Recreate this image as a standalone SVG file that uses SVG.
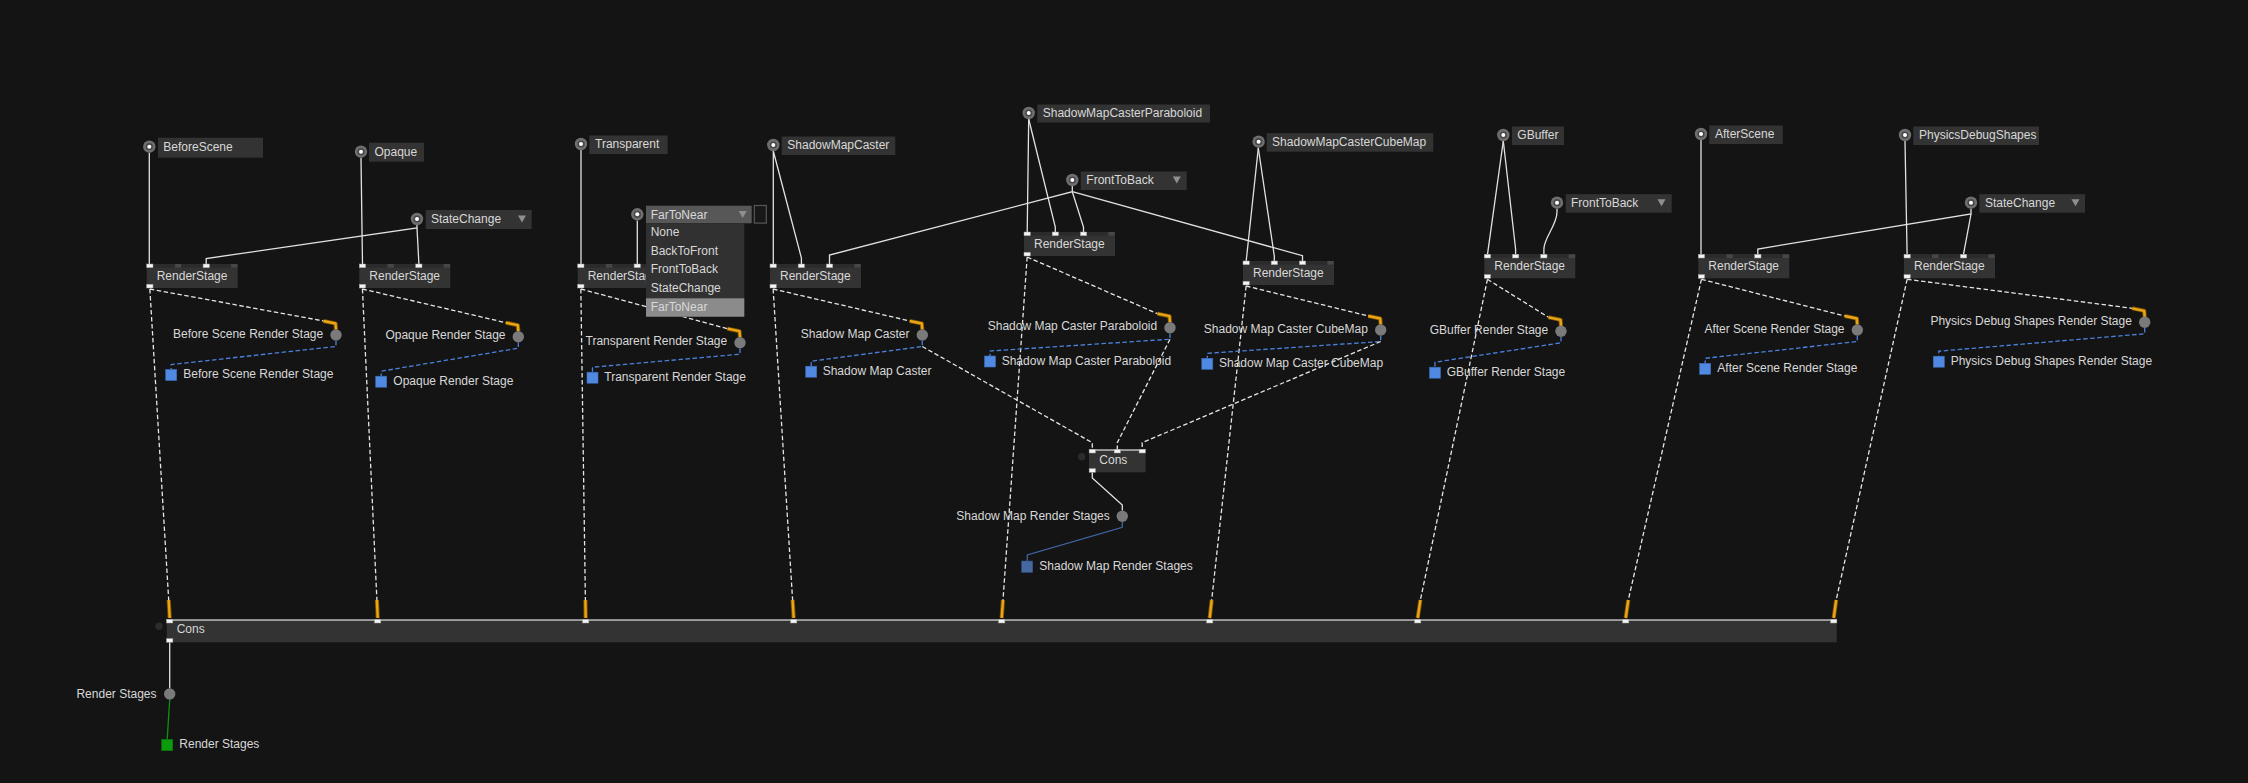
<svg xmlns="http://www.w3.org/2000/svg" width="2248" height="783" viewBox="0 0 2248 783">
<style>
text{font-family:"Liberation Sans",Arial,sans-serif;font-size:12px;fill:#d8d8d8}
.box{fill:#333333}
.w{fill:none;stroke:#e2e2e2;stroke-width:1.3}
.d{fill:none;stroke:#e6e6e6;stroke-width:1.3;stroke-dasharray:4.5 2.5}
.yo{fill:none;stroke:#7d5300;stroke-width:4.2;stroke-linejoin:round}
.yi{fill:none;stroke:#eaa514;stroke-width:2.4;stroke-linejoin:round}
.bd{fill:none;stroke:#4a82de;stroke-width:1.3;stroke-dasharray:4.5 2.5}
.port{fill:#f4f4f4;stroke:#9a9a9a;stroke-width:0.5}
.slot{fill:#474747}
.strip{fill:#2b2b2b}
.oc{fill:#7a7a7a}
.sq{fill:#5089e2;stroke:#3d6cb8;stroke-width:0.6}
.tri{fill:#8f8f8f}
.ring{fill:#6f6f6f}
.ringin{fill:#474747}
.dot{fill:#ffffff}
</style>
<defs>
<g id="icon"><circle r="6.2" class="ring"/><circle r="3.6" class="ringin"/><circle r="2" class="dot"/></g>
<clipPath id="clipPhys"><rect x="1913.3" y="126" width="125.7" height="19"/></clipPath>
</defs>
<rect width="2248" height="783" fill="#141414"/>

<g id="connectors">
<!-- input links -->
<path class="w" d="M149.3,153 V264"/>
<path class="w" d="M361,158 L362.5,264"/>
<path class="w" d="M417,225 V228 L206.2,258.5 V264"/>
<path class="w" d="M417,228 L418.9,264"/>
<path class="w" d="M581,150 V264"/>
<path class="w" d="M637.3,220.5 V264"/>
<path class="w" d="M773.3,151 V264"/>
<path class="w" d="M773.3,151 L801.4,258 V264"/>
<path class="w" d="M1072.3,186 V191.7 L829.5,255 V264"/>
<path class="w" d="M1028.7,119 L1027.2,232"/>
<path class="w" d="M1028.7,119 L1055.3,227 V232"/>
<path class="w" d="M1072.3,191.7 L1083.5,227 V232"/>
<path class="w" d="M1072.3,191.7 L1302.5,255.7 V261"/>
<path class="w" d="M1258.3,148 L1246.2,261"/>
<path class="w" d="M1258.3,148 L1274.3,256 V261"/>
<path class="w" d="M1503.3,141 L1487.5,254.3"/>
<path class="w" d="M1503.3,141 L1515.6,249 V254.3"/>
<path class="w" d="M1557,209 V212 C1557,225 1543.9,238 1543.9,249 V254.3"/>
<path class="w" d="M1701,140 V254.3"/>
<path class="w" d="M1971,209 V214 L1757.8,249 V254.3"/>
<path class="w" d="M1971,214 L1963.5,254.3"/>
<path class="w" d="M1905,141 L1907.1,254.3"/>

<!-- render stage -> label outputs -->
<path class="d" d="M149.85,289 L323.5,321"/>
<path class="d" d="M362.45,289 L505.8,322.7"/>
<path class="d" d="M580.85,289 L727.5,328.7"/>
<path class="d" d="M773.15,289 L909.8,321"/>
<path class="d" d="M1027.15,257 L1157.5,313.7"/>
<path class="d" d="M1246.15,286 L1368.2,316"/>
<path class="d" d="M1487.45,279.3 L1548.5,317.3"/>
<path class="d" d="M1701.45,279.3 L1844.8,316"/>
<path class="d" d="M1907.15,279.3 L2132.2,308.3"/>
<g id="yellow-ends-labels">
<path class="yo" d="M323.5,321 L335.5,323.5 L336,329.5"/><path class="yi" d="M323.5,321 L335.5,323.5 L336,329.5"/>
<path class="yo" d="M505.8,322.7 L517.8,325.2 L518.3,331.2"/><path class="yi" d="M505.8,322.7 L517.8,325.2 L518.3,331.2"/>
<path class="yo" d="M727.5,328.7 L739.5,331.2 L740,337.2"/><path class="yi" d="M727.5,328.7 L739.5,331.2 L740,337.2"/>
<path class="yo" d="M909.8,321 L921.8,323.5 L922.3,329.5"/><path class="yi" d="M909.8,321 L921.8,323.5 L922.3,329.5"/>
<path class="yo" d="M1157.5,313.7 L1169.5,316.2 L1170,322.2"/><path class="yi" d="M1157.5,313.7 L1169.5,316.2 L1170,322.2"/>
<path class="yo" d="M1368.2,316 L1380.2,318.5 L1380.7,324.5"/><path class="yi" d="M1368.2,316 L1380.2,318.5 L1380.7,324.5"/>
<path class="yo" d="M1548.5,317.3 L1560.5,319.8 L1561,325.8"/><path class="yi" d="M1548.5,317.3 L1560.5,319.8 L1561,325.8"/>
<path class="yo" d="M1844.8,316 L1856.8,318.5 L1857.3,324.5"/><path class="yi" d="M1844.8,316 L1856.8,318.5 L1857.3,324.5"/>
<path class="yo" d="M2132.2,308.3 L2144.2,310.8 L2144.7,316.8"/><path class="yi" d="M2132.2,308.3 L2144.2,310.8 L2144.7,316.8"/>
</g>

<!-- render stage -> big Cons -->
<path class="d" d="M149.85,289 L168.7,600"/>
<path class="d" d="M362.45,289 L376.9,600"/>
<path class="d" d="M580.85,289 L585.4,600"/>
<path class="d" d="M773.15,289 L792.6,600"/>
<path class="d" d="M1027.15,257 L1003,600"/>
<path class="d" d="M1246.15,286 L1211.7,600"/>
<path class="d" d="M1487.45,279.3 L1420.4,600"/>
<path class="d" d="M1701.45,279.3 L1628.3,600"/>
<path class="d" d="M1907.15,279.3 L1836.2,600"/>
<g id="yellow-ends-cons">
<path class="yo" d="M168.7,600 L169.7,618"/><path class="yi" d="M168.7,600 L169.7,618"/>
<path class="yo" d="M376.9,600 L377.7,618"/><path class="yi" d="M376.9,600 L377.7,618"/>
<path class="yo" d="M585.4,600 L585.7,618"/><path class="yi" d="M585.4,600 L585.7,618"/>
<path class="yo" d="M792.6,600 L793.7,618"/><path class="yi" d="M792.6,600 L793.7,618"/>
<path class="yo" d="M1003,600 L1001.7,618"/><path class="yi" d="M1003,600 L1001.7,618"/>
<path class="yo" d="M1211.7,600 L1209.7,618"/><path class="yi" d="M1211.7,600 L1209.7,618"/>
<path class="yo" d="M1420.4,600 L1417.7,618"/><path class="yi" d="M1420.4,600 L1417.7,618"/>
<path class="yo" d="M1628.3,600 L1625.7,618"/><path class="yi" d="M1628.3,600 L1625.7,618"/>
<path class="yo" d="M1836.2,600 L1833.7,618"/><path class="yi" d="M1836.2,600 L1833.7,618"/>
</g>

<!-- label outputs -> blue squares -->
<path class="bd" d="M336,340.7 V346.5 L171.2,364.5 V369.5"/>
<path class="bd" d="M518.3,342.4 V348.2 L381.2,371.2 V376.2"/>
<path class="bd" d="M740,348.4 V354.2 L592.5,367.2 V372.2"/>
<path class="bd" d="M922.3,340.7 V346.5 L811.2,361.2 V366.2"/>
<path class="bd" d="M1170,333.4 V339.2 L990,351 V356"/>
<path class="bd" d="M1380.7,335.7 V341.5 L1207.3,353.3 V358.3"/>
<path class="bd" d="M1561,337 V342.8 L1435,362.2 V367.2"/>
<path class="bd" d="M1857.3,335.7 V341.5 L1705.2,358.3 V363.3"/>
<path class="bd" d="M2144.7,328 V333.8 L1938.8,351.2 V356.2"/>

<!-- shadow outputs -> inner Cons -->
<path class="d" d="M922.3,346.5 L1092.3,442.7 V449.3"/>
<path class="d" d="M1170,339.2 L1117.3,442.7 V449.3"/>
<path class="d" d="M1380.7,341.5 L1142.2,442.7 V449.3"/>

<!-- inner Cons output -->
<path class="w" d="M1092.3,472.3 V478 L1122.3,505 V510.6"/>
<path fill="none" stroke="#3f66a3" stroke-width="1.3" d="M1122.3,522 V527.3 L1027.3,555 V561"/>

<!-- big Cons output -->
<path class="w" d="M169.7,642.3 V688.3"/>
<path fill="none" stroke="#168c16" stroke-width="1.3" d="M169.7,699.7 L167.2,739.3"/>
</g>

<!-- input nodes -->
<g id="in-beforescene" transform="translate(149.3,146.7)"><use href="#icon"/><rect class="box" x="8.7" y="-9" width="105" height="20"/><text x="14" y="4.2">BeforeScene</text></g>
<g id="in-opaque" transform="translate(361,151.7)"><use href="#icon"/><rect class="box" x="8" y="-9" width="55" height="19"/><text x="13.5" y="4.2">Opaque</text></g>
<g id="in-statechange1" transform="translate(417,219)"><use href="#icon"/><rect class="box" x="8.7" y="-9" width="106" height="19"/><text x="14" y="4.2">StateChange</text><path class="tri" d="M101,-3.5 h8 l-4,7 z"/></g>
<g id="in-transparent" transform="translate(581,144)"><use href="#icon"/><rect class="box" x="8.3" y="-8.5" width="78.4" height="18.5"/><text x="14" y="4.2">Transparent</text></g>
<g id="in-shadowmapcaster" transform="translate(773.3,145)"><use href="#icon"/><rect class="box" x="8.4" y="-8.5" width="113.6" height="18.5"/><text x="14" y="4.2">ShadowMapCaster</text></g>
<g id="in-paraboloid" transform="translate(1028.7,113)"><use href="#icon"/><rect class="box" x="8.6" y="-8.5" width="172.7" height="18"/><text x="14" y="4.2">ShadowMapCasterParaboloid</text></g>
<g id="in-fronttoback1" transform="translate(1072.3,180)"><use href="#icon"/><rect class="box" x="8.4" y="-8.5" width="106" height="18.5"/><text x="14" y="4.2">FrontToBack</text><path class="tri" d="M100.5,-3.5 h8 l-4,7 z"/></g>
<g id="in-cubemap" transform="translate(1258.6,141.7)"><use href="#icon"/><rect class="box" x="8.1" y="-8.5" width="166.6" height="18.5"/><text x="13.5" y="4.2">ShadowMapCasterCubeMap</text></g>
<g id="in-gbuffer" transform="translate(1503.3,135)"><use href="#icon"/><rect class="box" x="8.7" y="-8.5" width="52" height="18.5"/><text x="14" y="4.2">GBuffer</text></g>
<g id="in-fronttoback2" transform="translate(1557,202.7)"><use href="#icon"/><rect class="box" x="8.7" y="-8.5" width="106" height="18.5"/><text x="14" y="4.2">FrontToBack</text><path class="tri" d="M100.5,-3.5 h8 l-4,7 z"/></g>
<g id="in-afterscene" transform="translate(1701,134)"><use href="#icon"/><rect class="box" x="8.3" y="-8.5" width="73.4" height="18.5"/><text x="14" y="4.2">AfterScene</text></g>
<g id="in-physics"><use href="#icon" x="1905" y="135"/><rect class="box" x="1913.3" y="126.5" width="125.7" height="18.5"/><text x="1919" y="139.2" clip-path="url(#clipPhys)">PhysicsDebugShapes</text></g>
<g id="in-statechange2" transform="translate(1971,202.7)"><use href="#icon"/><rect class="box" x="8.3" y="-8.5" width="105.7" height="18.5"/><text x="14" y="4.2">StateChange</text><path class="tri" d="M100.5,-3.5 h8 l-4,7 z"/></g>

<!-- RenderStage nodes -->
<g id="rs1" transform="translate(146.7,264)"><rect class="box" width="91" height="24"/><rect class="strip" width="91" height="3.7"/><rect class="slot" x="28.2" width="6.3" height="3.7"/><rect class="slot" x="84.4" width="6.3" height="3.7"/><rect class="port" width="6.3" height="3.7"/><rect class="port" x="56.4" width="6.3" height="3.7"/><rect class="port" y="20.3" width="6.3" height="3.7"/><text x="10" y="15.5">RenderStage</text></g>
<g id="rs2" transform="translate(359.3,264)"><rect class="box" width="91" height="24"/><rect class="strip" width="91" height="3.7"/><rect class="slot" x="28.2" width="6.3" height="3.7"/><rect class="slot" x="84.4" width="6.3" height="3.7"/><rect class="port" width="6.3" height="3.7"/><rect class="port" x="56.4" width="6.3" height="3.7"/><rect class="port" y="20.3" width="6.3" height="3.7"/><text x="10" y="15.5">RenderStage</text></g>
<g id="rs3" transform="translate(577.7,264)"><rect class="box" width="91" height="24"/><rect class="strip" width="91" height="3.7"/><rect class="slot" x="28.2" width="6.3" height="3.7"/><rect class="slot" x="84.4" width="6.3" height="3.7"/><rect class="port" width="6.3" height="3.7"/><rect class="port" x="56.4" width="6.3" height="3.7"/><rect class="port" y="20.3" width="6.3" height="3.7"/><text x="10" y="15.5">RenderStage</text></g>
<g id="rs4" transform="translate(770,264)"><rect class="box" width="91" height="24"/><rect class="strip" width="91" height="3.7"/><rect class="slot" x="84.4" width="6.3" height="3.7"/><rect class="port" width="6.3" height="3.7"/><rect class="port" x="28.2" width="6.3" height="3.7"/><rect class="port" x="56.4" width="6.3" height="3.7"/><rect class="port" y="20.3" width="6.3" height="3.7"/><text x="10" y="15.5">RenderStage</text></g>
<g id="rs5" transform="translate(1024,232)"><rect class="box" width="91" height="24"/><rect class="strip" width="91" height="3.7"/><rect class="slot" x="84.4" width="6.3" height="3.7"/><rect class="port" width="6.3" height="3.7"/><rect class="port" x="28.2" width="6.3" height="3.7"/><rect class="port" x="56.4" width="6.3" height="3.7"/><rect class="port" y="20.3" width="6.3" height="3.7"/><text x="10" y="15.5">RenderStage</text></g>
<g id="rs6" transform="translate(1243,261)"><rect class="box" width="91" height="24"/><rect class="strip" width="91" height="3.7"/><rect class="slot" x="84.4" width="6.3" height="3.7"/><rect class="port" width="6.3" height="3.7"/><rect class="port" x="28.2" width="6.3" height="3.7"/><rect class="port" x="56.4" width="6.3" height="3.7"/><rect class="port" y="20.3" width="6.3" height="3.7"/><text x="10" y="15.5">RenderStage</text></g>
<g id="rs7" transform="translate(1484.3,254.3)"><rect class="box" width="91" height="24"/><rect class="strip" width="91" height="3.7"/><rect class="slot" x="84.4" width="6.3" height="3.7"/><rect class="port" width="6.3" height="3.7"/><rect class="port" x="28.2" width="6.3" height="3.7"/><rect class="port" x="56.4" width="6.3" height="3.7"/><rect class="port" y="20.3" width="6.3" height="3.7"/><text x="10" y="15.5">RenderStage</text></g>
<g id="rs8" transform="translate(1698.3,254.3)"><rect class="box" width="91" height="24"/><rect class="strip" width="91" height="3.7"/><rect class="slot" x="28.2" width="6.3" height="3.7"/><rect class="slot" x="84.4" width="6.3" height="3.7"/><rect class="port" width="6.3" height="3.7"/><rect class="port" x="56.4" width="6.3" height="3.7"/><rect class="port" y="20.3" width="6.3" height="3.7"/><text x="10" y="15.5">RenderStage</text></g>
<g id="rs9" transform="translate(1904,254.3)"><rect class="box" width="91" height="24"/><rect class="strip" width="91" height="3.7"/><rect class="slot" x="28.2" width="6.3" height="3.7"/><rect class="slot" x="84.4" width="6.3" height="3.7"/><rect class="port" width="6.3" height="3.7"/><rect class="port" x="56.4" width="6.3" height="3.7"/><rect class="port" y="20.3" width="6.3" height="3.7"/><text x="10" y="15.5">RenderStage</text></g>

<!-- output labels -->
<g id="out-beforescene"><circle class="oc" cx="336" cy="335" r="5.7"/><text x="323.2" y="337.5" text-anchor="end">Before Scene Render Stage</text></g>
<g id="out-opaque"><circle class="oc" cx="518.3" cy="336.7" r="5.7"/><text x="505.5" y="339.2" text-anchor="end">Opaque Render Stage</text></g>
<g id="out-transparent"><circle class="oc" cx="740" cy="342.7" r="5.7"/><text x="727.2" y="345.2" text-anchor="end">Transparent Render Stage</text></g>
<g id="out-shadowmapcaster"><circle class="oc" cx="922.3" cy="335" r="5.7"/><text x="909.5" y="337.5" text-anchor="end">Shadow Map Caster</text></g>
<g id="out-paraboloid"><circle class="oc" cx="1170" cy="327.7" r="5.7"/><text x="1157.2" y="330.2" text-anchor="end">Shadow Map Caster Paraboloid</text></g>
<g id="out-cubemap"><circle class="oc" cx="1380.7" cy="330" r="5.7"/><text x="1367.9" y="332.5" text-anchor="end">Shadow Map Caster CubeMap</text></g>
<g id="out-gbuffer"><circle class="oc" cx="1561" cy="331.3" r="5.7"/><text x="1548.2" y="333.8" text-anchor="end">GBuffer Render Stage</text></g>
<g id="out-afterscene"><circle class="oc" cx="1857.3" cy="330" r="5.7"/><text x="1844.5" y="332.5" text-anchor="end">After Scene Render Stage</text></g>
<g id="out-physics"><circle class="oc" cx="2144.7" cy="322.3" r="5.7"/><text x="2131.9" y="324.8" text-anchor="end">Physics Debug Shapes Render Stage</text></g>
<g id="out-shadowstages"><circle class="oc" cx="1122.3" cy="516.3" r="5.7"/><text x="1109.8" y="519.6" text-anchor="end">Shadow Map Render Stages</text></g>
<g id="out-renderstages"><circle class="oc" cx="169.7" cy="694" r="5.7"/><text x="156.5" y="697.5" text-anchor="end">Render Stages</text></g>

<!-- result squares -->
<g id="res-beforescene"><rect class="sq" x="165.7" y="369.5" width="11" height="11"/><text x="183.3" y="378.3">Before Scene Render Stage</text></g>
<g id="res-opaque"><rect class="sq" x="375.7" y="376.2" width="11" height="11"/><text x="393.3" y="385">Opaque Render Stage</text></g>
<g id="res-transparent"><rect class="sq" x="587" y="372.2" width="11" height="11"/><text x="604.3" y="381">Transparent Render Stage</text></g>
<g id="res-shadowmapcaster"><rect class="sq" x="805.7" y="366.2" width="11" height="11"/><text x="822.7" y="375">Shadow Map Caster</text></g>
<g id="res-paraboloid"><rect class="sq" x="984.5" y="356" width="11" height="11"/><text x="1001.7" y="364.8">Shadow Map Caster Paraboloid</text></g>
<g id="res-cubemap"><rect class="sq" x="1201.8" y="358.3" width="11" height="11"/><text x="1219" y="367.1">Shadow Map Caster CubeMap</text></g>
<g id="res-gbuffer"><rect class="sq" x="1429.5" y="367.2" width="11" height="11"/><text x="1446.7" y="376">GBuffer Render Stage</text></g>
<g id="res-afterscene"><rect class="sq" x="1699.7" y="363.3" width="11" height="11"/><text x="1717.3" y="372.1">After Scene Render Stage</text></g>
<g id="res-physics"><rect class="sq" x="1933.3" y="356.2" width="11" height="11"/><text x="1950.7" y="365">Physics Debug Shapes Render Stage</text></g>
<g id="res-shadowstages"><rect x="1021.7" y="561" width="11" height="11.3" fill="#44689f" stroke="#35548a" stroke-width="0.6"/><text x="1039.3" y="570">Shadow Map Render Stages</text></g>
<g id="res-renderstages"><rect x="161.7" y="739.3" width="11" height="11.4" fill="#0e9a0e" stroke="#0a7a0a" stroke-width="0.6"/><text x="179.3" y="748">Render Stages</text></g>

<!-- inner Cons -->
<g id="cons-shadow">
<circle cx="1081.7" cy="456.7" r="3.7" fill="#2c2c2c"/>
<rect class="box" x="1089" y="449.3" width="56.7" height="23"/>
<rect x="1089" y="449.3" width="56.7" height="1.5" fill="#b8b8b8"/>
<rect class="port" x="1089.15" y="449.3" width="6.3" height="3.7"/>
<rect class="port" x="1114.15" y="449.3" width="6.3" height="3.7"/>
<rect class="port" x="1139.05" y="449.3" width="6.3" height="3.7"/>
<rect class="port" x="1089.15" y="468.6" width="6.3" height="3.7"/>
<text x="1099.3" y="463.5">Cons</text>
</g>

<!-- big Cons -->
<g id="cons-main">
<circle cx="159" cy="626.3" r="3.7" fill="#2c2c2c"/>
<rect class="box" x="166.7" y="619.3" width="1670" height="23"/>
<rect x="166.7" y="619.3" width="1670" height="1.5" fill="#b8b8b8"/>
<rect class="port" x="166.55" y="619.3" width="6.3" height="3.7"/>
<rect class="port" x="374.55" y="619.3" width="6.3" height="3.7"/>
<rect class="port" x="582.55" y="619.3" width="6.3" height="3.7"/>
<rect class="port" x="790.55" y="619.3" width="6.3" height="3.7"/>
<rect class="port" x="998.55" y="619.3" width="6.3" height="3.7"/>
<rect class="port" x="1206.55" y="619.3" width="6.3" height="3.7"/>
<rect class="port" x="1414.55" y="619.3" width="6.3" height="3.7"/>
<rect class="port" x="1622.55" y="619.3" width="6.3" height="3.7"/>
<rect class="port" x="1830.55" y="619.3" width="6.3" height="3.7"/>
<rect class="port" x="166.55" y="638.6" width="6.3" height="3.7"/>
<text x="176.7" y="633.3">Cons</text>
</g>

<!-- FarToNear dropdown (open) -->
<g id="in-fartonear">
<use href="#icon" x="637.3" y="214.3"/>
<rect x="646" y="205.7" width="105.7" height="17.6" fill="#575757"/>
<text x="650.7" y="219">FarToNear</text>
<path class="tri" d="M738.7,211 h8 l-4,7 z"/>
<rect x="754.3" y="205.5" width="12" height="17.6" fill="#181818" stroke="#575757" stroke-width="1.2"/>
<rect x="646" y="223.3" width="98.3" height="93.4" fill="#313131"/>
<rect x="646" y="298.3" width="98.3" height="18.4" fill="#8b8b8b"/>
<text x="650.7" y="235.7">None</text>
<text x="650.7" y="254.7">BackToFront</text>
<text x="650.7" y="273.3">FrontToBack</text>
<text x="650.7" y="292">StateChange</text>
<text x="650.7" y="311">FarToNear</text>
</g>
</svg>
